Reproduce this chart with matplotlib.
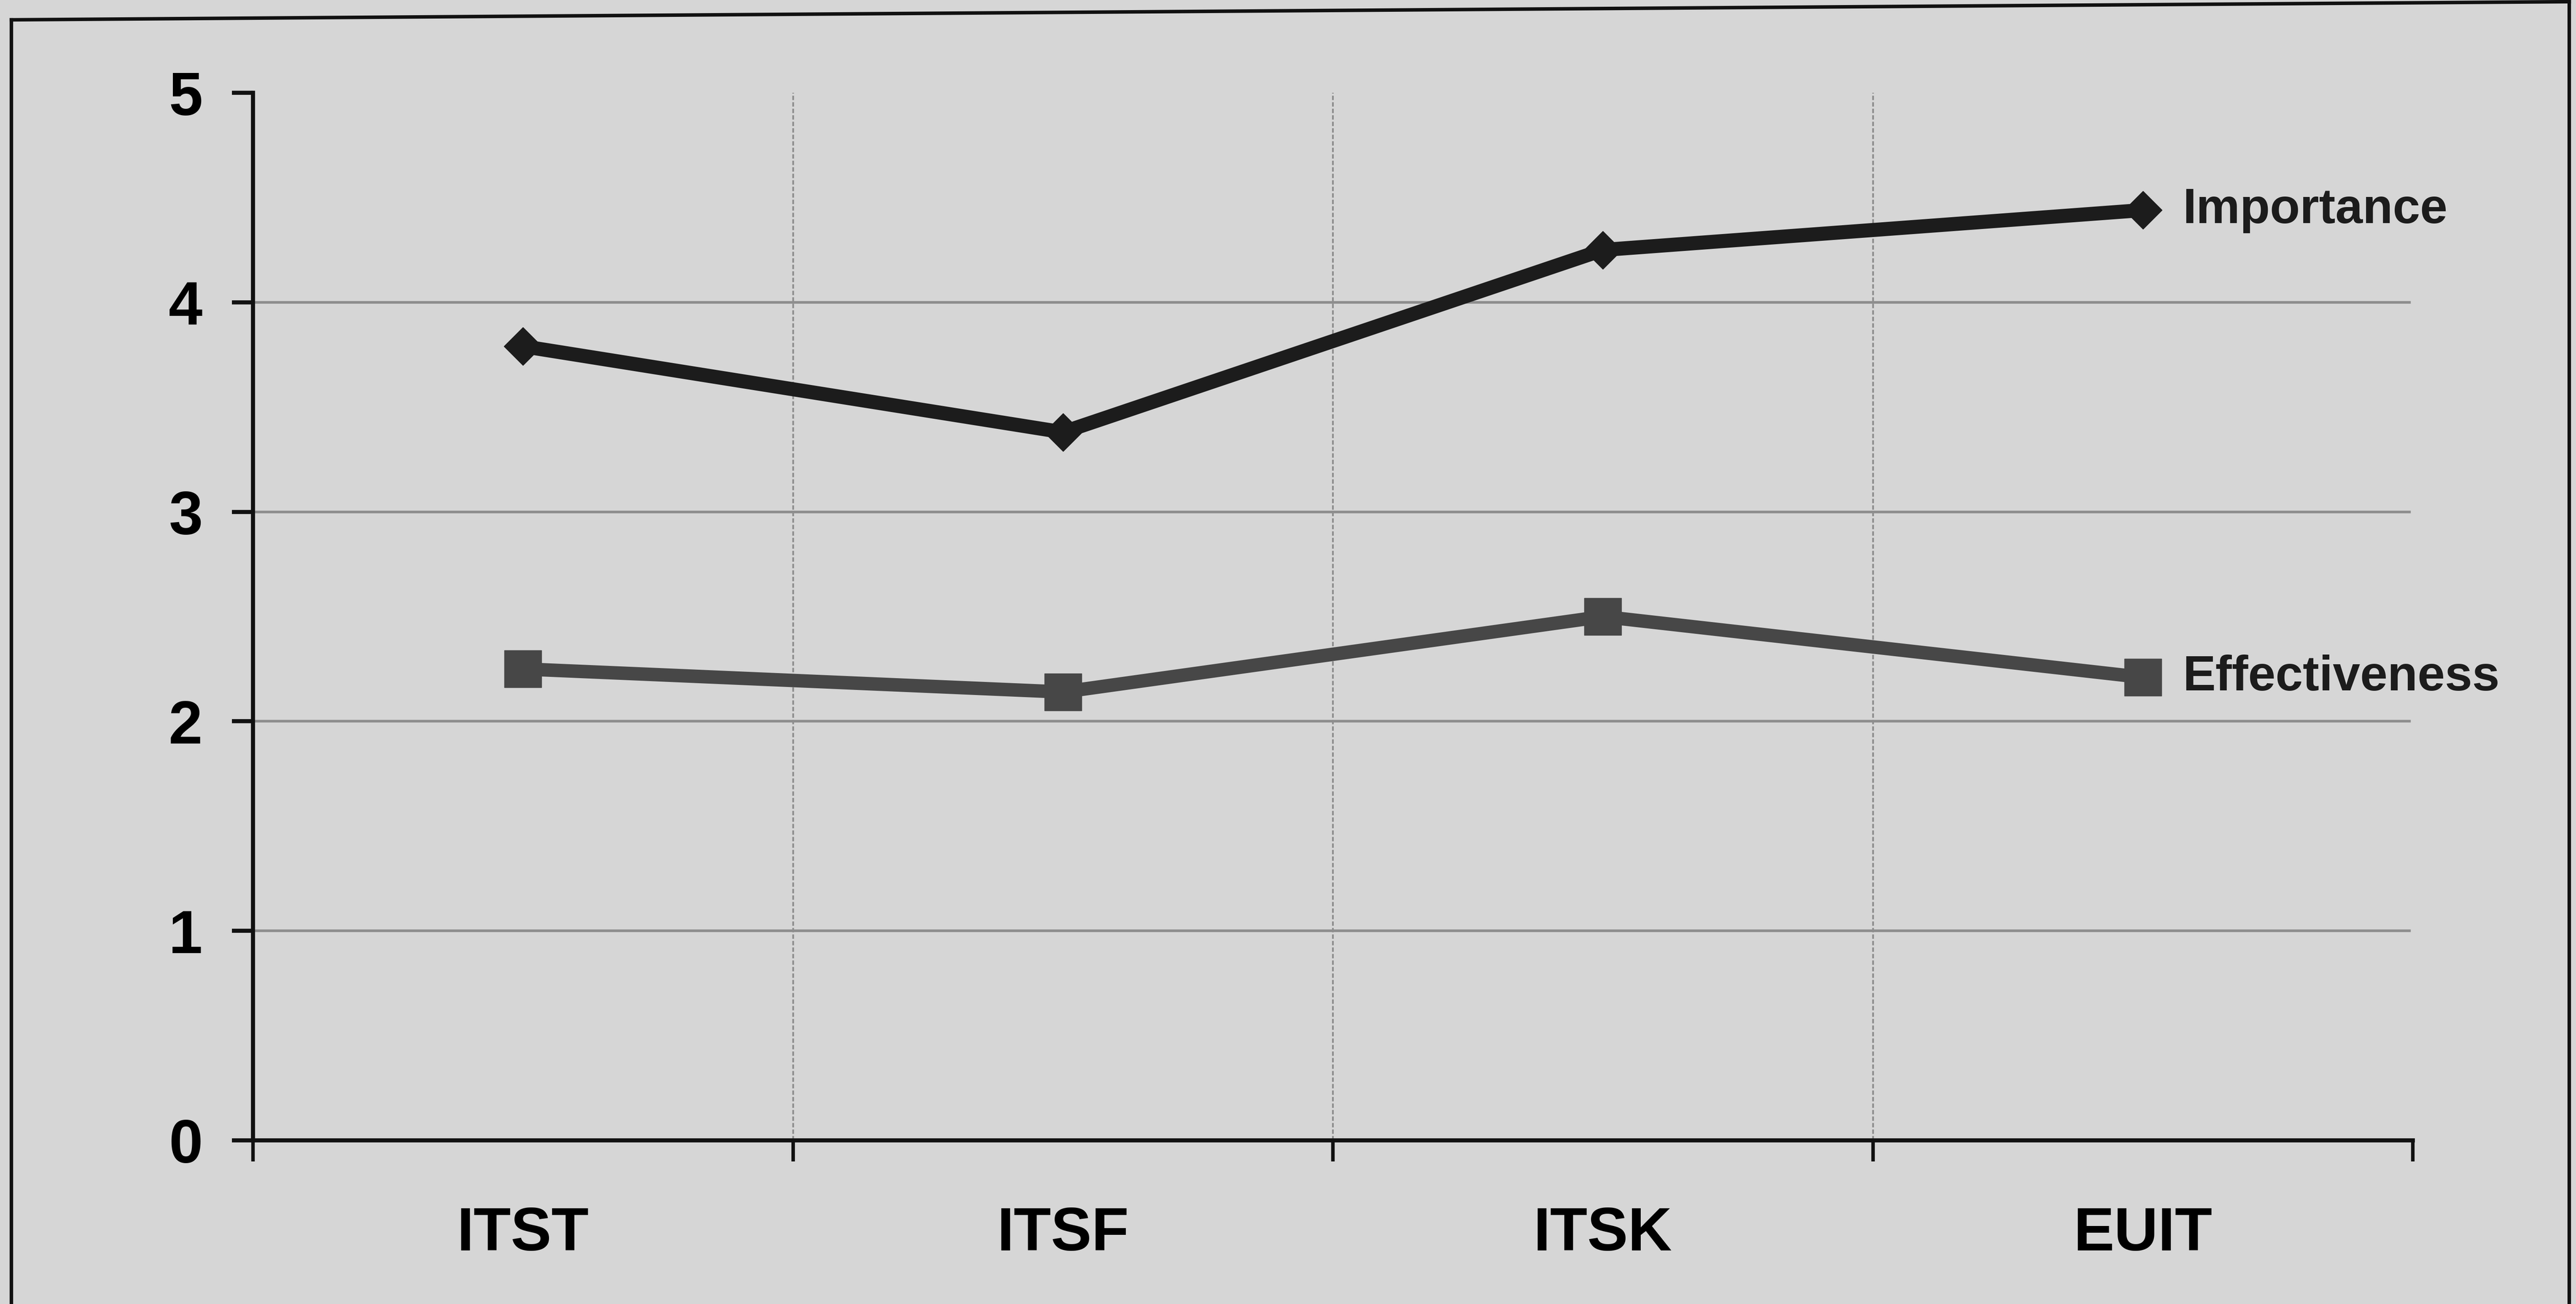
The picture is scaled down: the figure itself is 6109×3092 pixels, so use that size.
import matplotlib
matplotlib.use("Agg")
import matplotlib.pyplot as plt
from matplotlib.lines import Line2D

categories = ["ITST", "ITSF", "ITSK", "EUIT"]
importance = [3.79, 3.38, 4.25, 4.44]
effectiveness = [2.25, 2.14, 2.50, 2.21]
yticks = [0, 1, 2, 3, 4, 5]

W, H = 6109, 3092
DPI = 100
plt.rcParams["font.family"] = ["Liberation Sans", "DejaVu Sans"]
plt.rcParams["font.weight"] = "bold"

fig = plt.figure(figsize=(W / DPI, H / DPI), dpi=DPI, facecolor="#d6d6d6")
ax = fig.add_axes([600 / W, 1 - 2704 / H, (5722 - 600) / W, (2704 - 220) / H])
ax.set_facecolor("none")

x = list(range(1, len(categories) + 1))
ax.set_xlim(0.5, len(categories) + 0.5)
ax.set_ylim(0, 5)

# grid
for yv in yticks[1:-1]:
    ax.axhline(yv, xmin=0, xmax=0.9985, color="#8e8e8e", lw=4.5, zorder=1)
for xb in [1.5, 2.5, 3.5]:
    ax.axvline(xb, color="#8e8e8e", lw=3.0, ls=(0, (2.5, 1.2)), zorder=1)

ax.plot(x, importance, color="#1c1c1c", lw=24, marker="D", ms=46,
        solid_joinstyle="round", zorder=4)
ax.plot(x, effectiveness, color="#474747", lw=23, marker="s", ms=63,
        solid_joinstyle="round", zorder=3)

ax.annotate("Importance", (x[-1], importance[-1]), xytext=(68, 0),
            textcoords="offset points", va="center", ha="left",
            fontsize=84, fontweight="bold", color="#1c1c1c")
ax.annotate("Effectiveness", (x[-1], effectiveness[-1]), xytext=(68, 0),
            textcoords="offset points", va="center", ha="left",
            fontsize=84, fontweight="bold", color="#1c1c1c")

for s in ["top", "right"]:
    ax.spines[s].set_visible(False)
for s in ["left", "bottom"]:
    ax.spines[s].set_linewidth(7)
    ax.spines[s].set_color("#111111")

ax.set_yticks(yticks)
ax.set_yticklabels([str(v) for v in yticks], fontsize=104, fontweight="bold")
ax.tick_params(axis="y", length=36, width=7, pad=50, color="#111111")

ax.set_xticks(x)
ax.set_xticklabels(categories, fontsize=104, fontweight="bold")
ax.set_xticks([0.5, 1.5, 2.5, 3.5, 4.5], minor=True)
ax.tick_params(axis="x", which="major", length=0, pad=112)
ax.tick_params(axis="x", which="minor", length=36, width=6, color="#111111")

# outer frame of the scanned chart
fw = 6
fig.add_artist(Line2D([27 / W, 27 / W], [0, 1 - 47 / H], transform=fig.transFigure,
                      color="#111111", lw=fw))
fig.add_artist(Line2D([27 / W, 6093 / W], [1 - 47 / H, 1 - 4 / H], transform=fig.transFigure,
                      color="#111111", lw=fw))
fig.add_artist(Line2D([6093 / W, 6093 / W], [0, 1 - 4 / H], transform=fig.transFigure,
                      color="#111111", lw=fw))

fig.savefig("out.png", dpi=DPI, facecolor=fig.get_facecolor())
